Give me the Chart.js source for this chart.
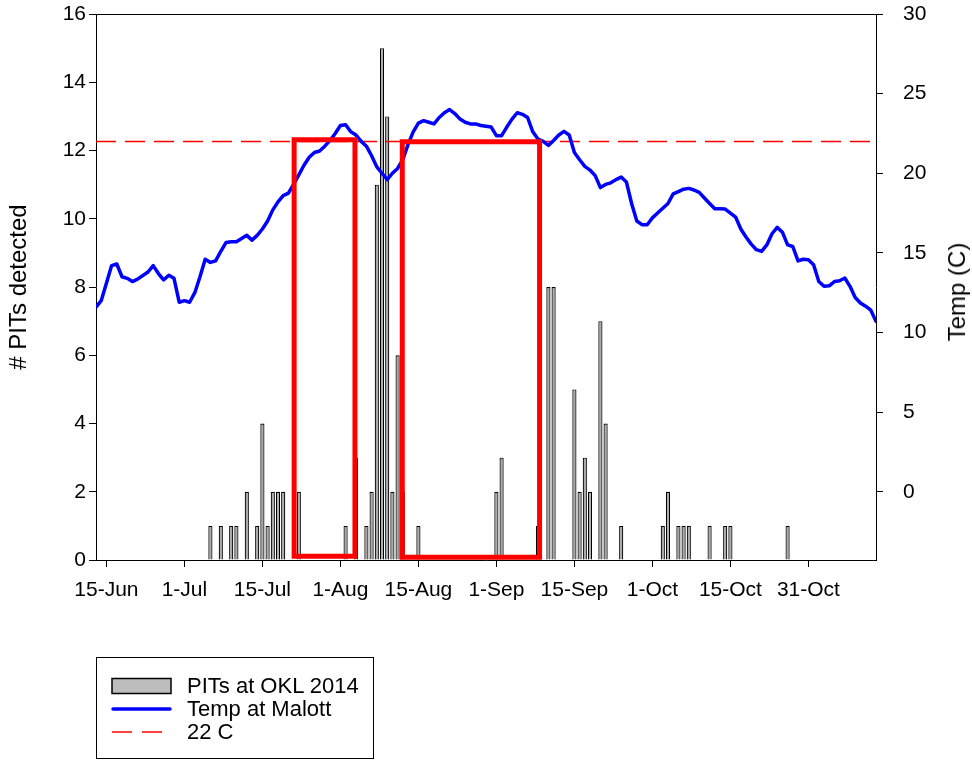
<!DOCTYPE html>
<html>
<head>
<meta charset="utf-8">
<script src="https://cdn.jsdelivr.net/npm/chart.js@4.4.1/dist/chart.umd.min.js"></script>
<style>
  html, body { margin: 0; padding: 0; background: #fff; }
  #wrap { position: relative; width: 972px; height: 761px; font-family: "Liberation Sans", Arial, sans-serif; color: #000; }
  #chart { position: absolute; left: 0; top: 0; }
  #rightTitle { position: absolute; left: 957px; top: 292px; transform: translate(-50%, -50%) rotate(-90deg); font-size: 24px; white-space: nowrap; }
  #legend { position: absolute; left: 96px; top: 657px; width: 278px; height: 102px; border: 1px solid #000; box-sizing: border-box; }
  .item { position: absolute; left: 0; height: 24px; display: flex; align-items: center; font-size: 22px; white-space: nowrap; }
  .item svg { margin-left: 14px; margin-right: 14px; }
</style>
</head>
<body>
<div id="wrap">
  <canvas id="chart" width="972" height="761"></canvas>
  <div id="rightTitle">Temp (C)</div>
  <div id="legend"></div>
</div>
<script>
// Axis ticks: one every 15 days, counted from the 15-Jun tick (day 0)
const tickDays = [0, 15, 30, 45, 60, 75, 90, 105, 120, 135];
const tickLabels = ['15-Jun', '1-Jul', '15-Jul', '1-Aug', '15-Aug', '1-Sep', '15-Sep', '1-Oct', '15-Oct', '31-Oct'];

// Daily PIT tag detections at OKL (day index, count)
const pitDays   = [20, 22, 24, 25, 27, 29, 30, 31, 32, 33, 34, 37, 46, 48, 50, 51, 52, 53, 54, 55, 56, 57, 60,
                   75, 76, 83, 85, 86, 90, 91, 92, 93, 95, 96, 99, 107, 108, 110, 111, 112, 116, 119, 120, 131];
const pitCounts = [ 1,  1,  1,  1,  2,  1,  4,  1,  2,  2,  2,  2,  1,  3,  1,  2, 11, 15, 13,  2,  6,  2,  1,
                    2,  3,  1,  8,  8,  5,  2,  3,  2,  7,  4,  1,   1,   2,   1,   1,   1,   1,   1,   1,   1];

// Daily mean water temperature at Malott (deg C)
const tempDays = [-2, -1, 0, 1, 2, 3, 4, 5, 6, 8, 9, 10, 11, 12, 13, 14, 15, 16, 17, 18, 19, 20,
                  21, 22, 23, 24, 25, 26, 27, 28, 29, 30, 31, 32, 33, 34, 35, 36, 37, 38, 39, 40,
                  41, 42, 43, 44, 45, 46, 47, 48, 49, 50, 51, 52, 53, 54, 55, 56, 57, 58, 59, 60,
                  61, 62, 63, 64, 65, 66, 67, 68, 69, 70, 71, 72, 73, 74, 75, 76, 77, 78, 79, 80,
                  81, 82, 83, 84, 85, 86, 87, 88, 89, 90, 91, 92, 93, 94, 95, 96, 97, 98, 99, 100,
                  101, 102, 103, 104, 105, 106, 107, 108, 109, 110, 111, 112, 113, 114, 115, 116, 117, 118, 119, 120,
                  121, 122, 123, 124, 125, 126, 127, 128, 129, 130, 131, 132, 133, 134, 135, 136, 137, 138, 139, 140,
                  141, 142, 143, 144, 145, 146, 147, 148];
const tempC = [11.6, 12.0, 13.1, 14.2, 14.3, 13.5, 13.4, 13.2, 13.35, 13.8, 14.2, 13.7, 13.3, 13.6, 13.4, 11.9, 12.0, 11.9, 12.5, 13.5, 14.6, 14.4,
               14.5, 15.1, 15.65, 15.7, 15.7, 15.9, 16.1, 15.8, 16.1, 16.5, 17.0, 17.7, 18.2, 18.6, 18.75, 19.3, 19.9, 20.5, 21.0, 21.3,
               21.4, 21.7, 22.06, 22.5, 23.0, 23.05, 22.6, 22.4, 22.0, 21.7, 21.1, 20.4, 20.0, 19.6, 20.0, 20.3, 20.85, 21.8, 22.6, 23.15,
               23.3, 23.2, 23.1, 23.5, 23.8, 24.0, 23.75, 23.4, 23.2, 23.1, 23.1, 23.0, 22.95, 22.9, 22.36, 22.36, 22.9, 23.4, 23.8, 23.7,
               23.5, 22.6, 22.15, 22.0, 21.75, 22.06, 22.4, 22.63, 22.4, 21.3, 20.85, 20.43, 20.2, 19.85, 19.1, 19.3, 19.4, 19.6, 19.76, 19.45,
               18.1, 17.0, 16.77, 16.77, 17.2, 17.5, 17.8, 18.1, 18.7, 18.85, 19.0, 19.05, 18.95, 18.8, 18.45, 18.1, 17.77, 17.77, 17.75, 17.5,
               17.25, 16.5, 16.0, 15.55, 15.2, 15.09, 15.5, 16.2, 16.6, 16.3, 15.5, 15.4, 14.5, 14.6, 14.57, 14.25, 13.2, 12.9, 12.93, 13.2,
               13.25, 13.42, 12.9, 12.2, 11.85, 11.65, 11.4, 10.7];

// 22 C reference temperature
const thresholdC = 22;

// Highlighted periods (day index span, temperature span on the right axis)
const windowStartDays = [36.1, 56.9];
const windowEndDays   = [47.8, 83.3];
const windowTopC      = [22.1, 21.98];
const windowBottomC   = [-4.05, -4.12];

const FONT = '"Liberation Sans", Arial, sans-serif';
const AXIS_BLACK = '#000000';

function rectPath(i) {
  const x0 = windowStartDays[i], x1 = windowEndDays[i];
  const y0 = windowBottomC[i], y1 = windowTopC[i];
  const xm = (x0 + x1) / 2;
  return [{x: xm, y: y0}, {x: x0, y: y0}, {x: x0, y: y1}, {x: x1, y: y1}, {x: x1, y: y0}, {x: xm, y: y0}];
}

const datasets = [
  {
    type: 'bar',
    label: 'PITs at OKL 2014',
    data: pitDays.map((d, i) => ({x: d, y: pitCounts[i]})),
    yAxisID: 'y',
    backgroundColor: '#a9a9a9',
    borderColor: '#000',
    borderWidth: 1.2,
    barPercentage: 0.8,
    categoryPercentage: 1.0,
    order: 4
  },
  {
    type: 'line',
    label: '22 C',
    data: [{x: -2, y: thresholdC}, {x: 148, y: thresholdC}],
    yAxisID: 'yT',
    borderColor: '#ff0000',
    borderWidth: 1.5,
    borderDash: [20, 9],
    pointRadius: 0,
    order: 3
  },
  {
    type: 'line',
    label: 'Temp at Malott',
    data: tempDays.map((d, i) => ({x: d, y: tempC[i]})),
    yAxisID: 'yT',
    borderColor: '#0000ff',
    borderWidth: 3.5,
    borderJoinStyle: 'round',
    borderCapStyle: 'round',
    tension: 0,
    pointRadius: 0,
    order: 2
  }
];
windowStartDays.forEach((_, i) => {
  datasets.push({
    type: 'line',
    label: 'window' + i,
    data: rectPath(i),
    yAxisID: 'yT',
    borderColor: '#ff0000',
    borderWidth: 5,
    borderJoinStyle: 'miter',
    tension: 0,
    pointRadius: 0,
    order: 1
  });
});

const tickFont = {family: FONT, size: 21};
const axisGrid = {display: true, drawOnChartArea: false, drawTicks: true, tickLength: 7, color: AXIS_BLACK, lineWidth: 1, offset: false};
const axisBorder = {display: true, color: AXIS_BLACK, width: 1};

// Top frame line across the plot area
const frameTop = {
  id: 'frameTop',
  afterDatasetsDraw(chart) {
    const {ctx, chartArea} = chart;
    ctx.save();
    ctx.strokeStyle = AXIS_BLACK;
    ctx.lineWidth = 1;
    ctx.beginPath();
    ctx.moveTo(chartArea.left, Math.round(chartArea.top) + 0.5);
    ctx.lineTo(chartArea.right, Math.round(chartArea.top) + 0.5);
    ctx.stroke();
    ctx.restore();
  }
};

// vertical axes: fixed widths, no extra room reserved above/below for end labels
const fixVertical = (s) => { s.width = 96; s.paddingTop = 0; s.paddingBottom = 0; };

const chart = new Chart(document.getElementById('chart'), {
  type: 'bar',
  data: {datasets},
  plugins: [frameTop],
  options: {
    responsive: false,
    animation: false,
    devicePixelRatio: 1,
    layout: {padding: {top: 14, left: 0, right: 0, bottom: 0}},
    plugins: {legend: {display: false}, tooltip: {enabled: false}},
    scales: {
      x: {
        type: 'linear',
        min: -2,
        max: 148,
        offset: false,
        grid: axisGrid,
        border: axisBorder,
        ticks: {
          font: tickFont,
          color: '#000',
          padding: 11,
          maxRotation: 0,
          autoSkip: false,
          callback: (v) => {
            const k = tickDays.indexOf(v);
            return k >= 0 ? tickLabels[k] : '';
          }
        },
        afterBuildTicks: (s) => { s.ticks = tickDays.map(v => ({value: v})); },
        afterFit: (s) => { s.height = 201; s.paddingLeft = 0; s.paddingRight = 0; }
      },
      y: {
        position: 'left',
        min: 0,
        max: 16,
        grid: axisGrid,
        border: axisBorder,
        ticks: {font: tickFont, color: '#000', stepSize: 2, padding: 3},
        title: {display: true, text: '# PITs detected', color: '#000', font: {family: FONT, size: 24}, padding: {top: 5, bottom: 0}},
        afterFit: fixVertical
      },
      yT: {
        position: 'right',
        min: -30 / 7,
        max: 30,
        grid: axisGrid,
        border: axisBorder,
        ticks: {font: tickFont, color: '#000', padding: 20},
        afterBuildTicks: (s) => { s.ticks = [0, 5, 10, 15, 20, 25, 30].map(v => ({value: v})); },
        afterFit: fixVertical
      }
    }
  }
});

// Legend box built from the three named series
(function buildLegend() {
  const box = document.getElementById('legend');
  const ds = chart.data.datasets;
  const order = [ds[0], ds[2], ds[1]];
  const centers = [28, 51, 74];
  order.forEach((d, i) => {
    const row = document.createElement('div');
    row.className = 'item';
    row.style.top = (centers[i] - 12) + 'px';
    let svg;
    if (d.type === 'bar') {
      svg = '<svg width="62" height="18"><rect x="1" y="1.5" width="59" height="15" fill="#bdbdbd" stroke="#000" stroke-width="1.5"/></svg>';
    } else if (d.borderDash) {
      svg = '<svg width="62" height="18"><line x1="1" y1="9" x2="60" y2="9" stroke="' + d.borderColor + '" stroke-width="' + d.borderWidth + '" stroke-dasharray="20 10"/></svg>';
    } else {
      svg = '<svg width="62" height="18"><line x1="2" y1="9" x2="59" y2="9" stroke="' + d.borderColor + '" stroke-width="' + d.borderWidth + '" stroke-linecap="round"/></svg>';
    }
    row.innerHTML = svg + '<span>' + d.label + '</span>';
    box.appendChild(row);
  });
})();
</script>
</body>
</html>
